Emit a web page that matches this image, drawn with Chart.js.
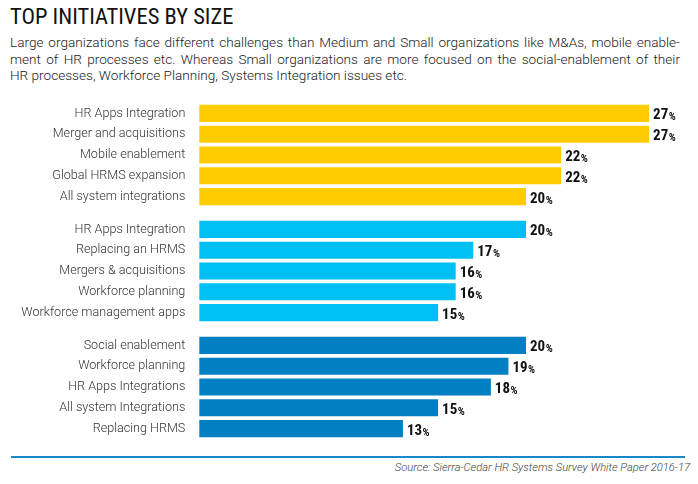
<!DOCTYPE html>
<html>
<head>
<meta charset="utf-8">
<script src="https://cdn.jsdelivr.net/npm/chart.js@4.4.1/dist/chart.umd.min.js"></script>
<style>
  html, body { margin: 0; padding: 0; background: #fff; }
  body { width: 698px; height: 484px; position: relative; overflow: hidden; }
  #title { position: absolute; left: 10px; top: 3px; font-family: "Roboto Condensed", "DejaVu Sans", sans-serif; font-stretch: condensed; font-size: 22.5px; color: #111; }
  #sub { position: absolute; left: 10px; top: 34px; width: 670px; font-family: Roboto, "Liberation Sans", sans-serif; font-weight: 300; font-size: 13.6px; line-height: 16.5px; color: #222; }
  #sub span { display: block; text-align: justify; }
  #sub span.j { text-align-last: justify; }
  canvas.c { position: absolute; left: 0; }
  #rule { position: absolute; left: 11px; top: 456px; width: 674px; height: 2px; background: #1a88c8; }
  #src { position: absolute; right: 8px; top: 461px; font-family: Roboto, "Liberation Sans", sans-serif; font-weight: 300; font-style: italic; font-size: 11.2px; color: #444; }
</style>
</head>
<body>
<div id="title">TOP INITIATIVES BY SIZE</div>
<div id="sub">
  <span class="j">Large organizations face different challenges than Medium and Small organizations like M&amp;As, mobile enable-</span>
  <span class="j">ment of HR processes etc. Whereas Small organizations are more focused on the social-enablement of their</span>
  <span>HR processes, Workforce Planning, Systems Integration issues etc.</span>
</div>
<canvas class="c" id="c1" width="698" height="104" style="top:103px"></canvas>
<canvas class="c" id="c2" width="698" height="104" style="top:219px"></canvas>
<canvas class="c" id="c3" width="698" height="104" style="top:335px"></canvas>
<div id="rule"></div>
<div id="src">Source: Sierra-Cedar HR Systems Survey White Paper 2016-17</div>
<script>
const largeLabels = ["HR Apps Integration", "Merger and acquisitions", "Mobile enablement", "Global HRMS expansion", "All system integrations"];
const largeValues = [27, 27, 22, 22, 20];
const mediumLabels = ["HR Apps Integration", "Replacing an HRMS", "Mergers & acquisitions", "Workforce planning", "Workforce management apps"];
const mediumValues = [20, 17, 16, 16, 15];
const smallLabels = ["Social enablement", "Workforce planning", "HR Apps Integrations", "All system Integrations", "Replacing HRMS"];
const smallValues = [20, 19, 18, 15, 13];

const valueLabelPlugin = {
  id: 'valueLabels',
  afterDatasetsDraw(chart) {
    const ctx = chart.ctx;
    const meta = chart.getDatasetMeta(0);
    const data = chart.data.datasets[0].data;
    ctx.save();
    ctx.fillStyle = '#111';
    ctx.textBaseline = 'alphabetic';
    ctx.textAlign = 'left';
    meta.data.forEach((bar, i) => {
      const num = String(data[i]);
      const x = bar.x + 4;
      ctx.font = 'bold 15px "Roboto Condensed", "DejaVu Sans", sans-serif';
      try { ctx.fontStretch = 'condensed'; } catch (e) {}
      ctx.fillText(num, x, bar.y + 6);
      const w = ctx.measureText(num).width;
      ctx.font = 'bold 11px "Roboto Condensed", "DejaVu Sans", sans-serif';
      try { ctx.fontStretch = 'condensed'; } catch (e) {}
      ctx.fillText('%', x + w + 0.5, bar.y + 7);
    });
    ctx.restore();
  }
};

function makeChart(id, labels, values, color) {
  new Chart(document.getElementById(id), {
    type: 'bar',
    data: {
      labels: labels,
      datasets: [{
        data: values,
        backgroundColor: color,
        borderWidth: 0,
        categoryPercentage: 1,
        barPercentage: 0.82,
        clip: 0
      }]
    },
    options: {
      indexAxis: 'y',
      responsive: false,
      animation: false,
      devicePixelRatio: 1,
      layout: { padding: { left: 0, right: 31.3, top: 0, bottom: 0 } },
      plugins: { legend: { display: false }, tooltip: { enabled: false } },
      scales: {
        x: { display: false, min: 1.42, max: 28 },
        y: {
          grid: { display: false, drawTicks: false },
          border: { display: false },
          ticks: {
            color: '#333',
            padding: 14,
            font: { family: 'Roboto, "Liberation Sans", sans-serif', size: 12.6, weight: '300' }
          },
          afterFit(scale) {
            scale.width = 199.3;
            scale.paddingTop = 0;
            scale.paddingBottom = 0;
          }
        }
      }
    },
    plugins: [valueLabelPlugin]
  });
}

makeChart('c1', largeLabels, largeValues, '#ffcc00');
makeChart('c2', mediumLabels, mediumValues, '#00c0f3');
makeChart('c3', smallLabels, smallValues, '#0080c3');
</script>
</body>
</html>
